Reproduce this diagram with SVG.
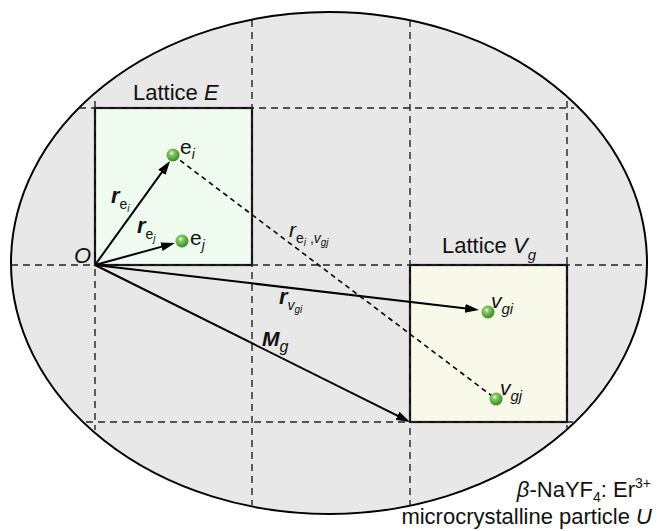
<svg xmlns="http://www.w3.org/2000/svg" width="657" height="531" viewBox="0 0 657 531">
<defs>
<style>
text{font-family:"Liberation Sans",Arial,sans-serif;fill:#111}
.lbl{font-size:22px}
.it{font-style:italic}
.bi{font-style:italic;font-weight:bold}
.grid{stroke:#222;stroke-width:1.4;stroke-dasharray:7 5;fill:none}
.box{stroke:#111;stroke-width:2.2}
.vec{stroke:#000;stroke-width:2;fill:none;marker-end:url(#ah)}
</style>
<marker id="ah" markerUnits="userSpaceOnUse" markerWidth="16" markerHeight="10" refX="10" refY="4.5" orient="auto">
<path d="M0,0 L14,4.5 L0,9 z" fill="#000"/>
</marker>
<radialGradient id="ball" cx="0.4" cy="0.35" r="0.65">
<stop offset="0" stop-color="#eef8e6"/>
<stop offset="0.3" stop-color="#86c864"/>
<stop offset="1" stop-color="#3a8824"/>
</radialGradient>
</defs>

<g id="particle">
<ellipse cx="329" cy="263" rx="318" ry="251" fill="#e8e8e8" stroke="#000" stroke-width="2"/>
</g>

<g id="lattice-E">
<rect class="box" x="95" y="108" width="157" height="157" fill="#f0fbf0"/>
<text class="lbl" x="133" y="100">Lattice <tspan class="it">E</tspan></text>
</g>

<g id="lattice-Vg">
<rect class="box" x="410" y="265" width="157" height="157" fill="#f8f9e9"/>
<text class="lbl" x="442" y="253">Lattice <tspan class="it">V</tspan><tspan class="it" font-size="15" dy="7">g</tspan></text>
</g>

<g id="grid">
<line class="grid" x1="79" y1="108" x2="574" y2="108"/>
<line class="grid" x1="11" y1="265" x2="645" y2="265"/>
<line class="grid" x1="86" y1="422" x2="574" y2="422"/>
<line class="grid" x1="95" y1="101" x2="95" y2="430"/>
<line class="grid" x1="252" y1="20" x2="252" y2="505"/>
<line class="grid" x1="410" y1="20" x2="410" y2="505"/>
<line class="grid" x1="567" y1="101" x2="567" y2="430"/>
</g>

<g id="connectors">
<line x1="173" y1="155" x2="496" y2="399" stroke="#000" stroke-width="1.6" stroke-dasharray="5 4"/>
<line class="vec" x1="95" y1="265" x2="167.7" y2="164.2"/>
<line class="vec" x1="95" y1="265" x2="171.1" y2="244.1"/>
<line class="vec" x1="95" y1="265" x2="475" y2="309.5"/>
<line class="vec" x1="95" y1="265" x2="406.4" y2="420.2"/>
</g>

<g id="origin">
<text class="lbl it" x="91" y="263" text-anchor="end">O</text>
</g>

<g id="e_i">
<circle cx="173" cy="155" r="6.5" fill="url(#ball)"/>
<text x="180" y="154" font-size="21">e<tspan class="it" font-size="14" dy="5">i</tspan></text>
</g>

<g id="e_j">
<circle cx="182" cy="241" r="6.5" fill="url(#ball)"/>
<text x="190" y="245" font-size="21">e<tspan class="it" font-size="14" dy="5">j</tspan></text>
</g>

<g id="v_gi">
<circle cx="488" cy="312" r="6.5" fill="url(#ball)"/>
<text class="it" x="491" y="308" font-size="21">v<tspan font-size="15" dy="6">gi</tspan></text>
</g>

<g id="v_gj">
<circle cx="496" cy="399" r="6.5" fill="url(#ball)"/>
<text class="it" x="500" y="395" font-size="21">v<tspan font-size="15" dy="6">gj</tspan></text>
</g>

<g id="vector-labels">
<text x="111" y="203"><tspan class="bi" font-size="22">r</tspan><tspan font-size="14" dy="6">e</tspan><tspan class="it" font-size="10" dy="3">i</tspan></text>
<text x="137" y="233"><tspan class="bi" font-size="22">r</tspan><tspan font-size="14" dy="6">e</tspan><tspan class="it" font-size="10" dy="3">j</tspan></text>
<text x="289" y="237"><tspan class="it" font-size="21">r</tspan><tspan font-size="14" dy="6">e</tspan><tspan class="it" font-size="10" dy="3">i</tspan><tspan font-size="14" dy="-3"> ,</tspan><tspan class="it" font-size="14">v</tspan><tspan class="it" font-size="10" dy="3">gj</tspan></text>
<text x="279" y="304"><tspan class="bi" font-size="22">r</tspan><tspan class="it" font-size="14" dy="6">v</tspan><tspan class="it" font-size="10" dy="3">gi</tspan></text>
<text x="262" y="346"><tspan class="bi" font-size="21">M</tspan><tspan class="it" font-size="16" dy="6">g</tspan></text>
</g>

<g id="caption">
<text class="lbl" x="651" y="497" text-anchor="end"><tspan class="it">β</tspan>-NaYF<tspan font-size="14" dy="5">4</tspan><tspan dy="-5">: Er</tspan><tspan font-size="14" dy="-9">3+</tspan></text>
<text class="lbl" x="652" y="524" text-anchor="end">microcrystalline particle <tspan class="it">U</tspan></text>
</g>
</svg>
